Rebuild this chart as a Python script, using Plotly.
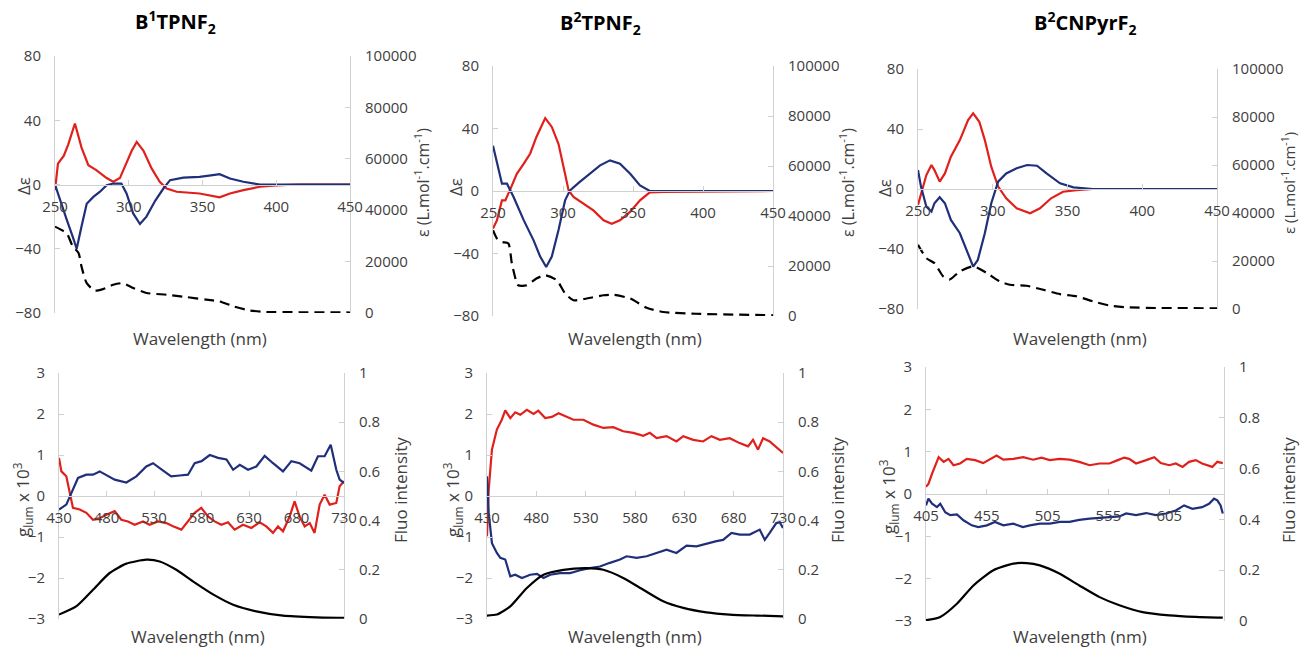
import plotly.graph_objects as go

W, H = 1301, 649

# ---------------- data ----------------
# Panel 1: B1TPNF2 CD / absorption
p1_red_wl = [250, 252, 256, 259, 263.5, 268, 272.6, 278, 285, 289.5, 294, 298.5, 302, 305.4, 310, 315.5,
             321, 325.7, 332.5, 348, 355, 361.6, 368.6, 377.7, 389, 400, 416, 450]
p1_red_de = [-3.5, 13, 18, 25, 38, 23, 12, 9, 4, 1.7, 4, 13, 21, 26.5, 21, 10,
             1.7, -2.5, -4.5, -5.6, -6.6, -8, -5.6, -3.5, -1.4, -0.6, 0, 0]
p1_blue_wl = [250, 253.4, 258, 262, 264.7, 268, 271.5, 276, 280.5, 285, 289.5, 295, 298.5, 303, 307.6, 312,
              318, 323.5, 328, 337, 348, 357, 361.6, 368.6, 377.7, 389, 416, 450]
p1_blue_de = [0, -10, -22, -32.5, -40, -26, -12, -7.7, -4.5, -0.4, 0.6, 0.6, -5.6, -18, -24.6, -20,
              -10, -2.5, 2.7, 4.3, 4.8, 5.8, 6.4, 3.7, 1.7, 0, 0, 0]
p1_abs_wl = [250, 254.5, 258, 262, 266, 268, 271.5, 277, 282.5, 289.5, 296, 303, 312, 325.7, 339, 352.5,
             361.6, 371, 382, 393, 416, 450]
p1_abs_eps = [33600, 32300, 31000, 26000, 23300, 18000, 11600, 8700, 9300, 11000, 11600, 9700, 7800, 7100, 6200, 5200,
              4500, 2600, 1000, 400, 300, 200]

# Panel 2: B2TPNF2
p2_red_wl = [250, 252.8, 256.4, 258.8, 262, 267, 272, 276.6, 281, 287.3, 292, 296.8, 300.4, 304, 307.5, 314.6,
             321.7, 329, 334.8, 340.7, 347.9, 355, 362, 371.6, 450]
p2_red_de = [-24, -18.8, -6, -6, 0.4, 11, 17.5, 24, 34.6, 46.7, 41, 30, 15.4, 0.4, -3.8, -8,
             -12.4, -18.8, -21, -18.8, -13.4, -6, -0.9, -0.6, 0]
p2_blue_wl = [250, 252.8, 256.4, 260, 264.7, 272, 279, 283.7, 288, 292, 296.8, 301.5, 305, 312, 319, 326.5,
              333.6, 340.7, 348, 355, 362, 450]
p2_blue_de = [29, 17.5, 4.7, 4.7, -3.8, -18.8, -31.6, -42, -48.6, -42, -25, -6, 0.4, 5.8, 11, 16.4,
              19.6, 17.5, 11, 3.6, 0, 0]
p2_abs_wl = [250, 252.8, 256.4, 261, 263.5, 268, 274, 281, 287.3, 295.6, 301.5, 307.5, 317, 329, 336, 348,
             359.7, 371.6, 395, 450]
p2_abs_eps = [34300, 31000, 29600, 29000, 21000, 12300, 12300, 15000, 16300, 14300, 9000, 6300, 7000, 8300, 8500, 7000,
              3300, 1600, 900, 300]

# Panel 3: B2CNPyrF2
p3_red_wl = [250, 252, 255.6, 259, 261, 264.5, 268, 272, 278, 283.5, 286.9, 291, 294.7, 299, 303.6, 309,
             316, 325, 331.6, 339, 347, 356, 367, 450]
p3_red_de = [-10.6, -2.9, 9.3, 16, 12.6, 4.9, 10.4, 21.5, 32.6, 46, 50.4, 44.8, 32.6, 14.9, 1.6, -6.2,
             -12.9, -16.2, -12.9, -6.2, -1.8, -0.7, 0, 0]
p3_blue_wl = [250, 252, 255.6, 259, 261, 264.5, 268, 272, 278, 282.4, 286.9, 290, 294.7, 299, 303.6, 309,
              316, 323, 329.6, 336, 345, 354, 367, 450]
p3_blue_de = [12.6, 1.6, -11.8, -15, -9.5, -5.5, -9.5, -20.6, -29.5, -40.6, -51.7, -47.3, -29.5, -9.5, 4.9, 10.4,
              13.8, 16, 15.5, 10.4, 3.8, 1.1, 0, 0]
p3_abs_wl = [250, 255.6, 261, 266.8, 271, 278, 287, 296, 304.7, 311.5, 322.6, 333.8, 345, 356, 367, 378.5,
             389.6, 412, 450]
p3_abs_eps = [26800, 21200, 19100, 13600, 12200, 15700, 17800, 15000, 11500, 10100, 9700, 8000, 6200, 5300, 3200, 1400,
              700, 400, 300]

# Panel 4: B1TPNF2 CPL / emission
p4_red_wl = [430, 432.5, 437.7, 441, 444.7, 451.8, 458.8, 465.8, 472.8, 479.8, 488.6, 495.6, 502.6, 509.6, 518.4,
             525.4, 534.2, 543, 550, 558.8, 565.8, 572.8, 579.8, 586.8, 593.8, 600.9, 607.9, 614.9, 623.7, 632.5,
             641.2, 648.2, 655.3, 660.5, 665.8, 672.8, 678, 683.3, 688.6, 693.9, 699, 704.4, 709.6, 714.9, 721.9,
             725.4, 730]
p4_red_g = [0.93, 0.6, 0.48, 0.15, -0.29, -0.33, -0.41, -0.58, -0.54, -0.46, -0.37, -0.58, -0.62, -0.7, -0.62,
            -0.7, -0.62, -0.66, -0.74, -0.82, -0.62, -0.41, -0.29, -0.5, -0.62, -0.7, -0.64, -0.82, -0.7, -0.78,
            -0.64, -0.74, -0.9, -0.74, -0.86, -0.5, -0.13, -0.5, -0.74, -0.66, -0.9, -0.21, 0.03, -0.21, -0.17,
            0.24, 0.36]
p4_blue_wl = [430, 437.7, 443, 450, 458.8, 465.8, 472.8, 479.8, 488.6, 500.9, 511.4, 521.9, 529, 536, 543, 548,
              557, 565.8, 572.8, 580, 588.7, 597.4, 606.3, 613.3, 620.3, 629, 637.7, 646.5, 655.3, 665.8, 674.6,
              683.3, 695.6, 702.6, 709.6, 716, 721.9, 725.4, 730]
p4_blue_g = [-0.33, -0.21, 0.07, 0.44, 0.52, 0.52, 0.6, 0.52, 0.4, 0.33, 0.48, 0.72, 0.8, 0.68, 0.56, 0.48,
             0.5, 0.52, 0.8, 0.85, 1.0, 0.93, 0.89, 0.64, 0.76, 0.64, 0.72, 0.98, 0.8, 0.6, 0.85,
             0.8, 0.62, 0.97, 0.97, 1.25, 0.64, 0.4, 0.32]
p4_fl_wl = [430, 448, 465.8, 483.3, 500.9, 521.9, 536, 553.5, 571, 592.6, 613.3, 637.7, 665.8, 700.9, 730]
p4_fl = [0.018, 0.051, 0.119, 0.187, 0.225, 0.241, 0.234, 0.2, 0.153, 0.099, 0.058, 0.031, 0.0135, 0.007, 0.005]

# Panel 5: B2TPNF2
p5_red_wl = [430, 431.7, 435, 440, 445, 448.5, 453.6, 458.6, 463.7, 470.4, 477.2, 482, 489, 495.7, 502.5, 509.2,
             517.6, 527.7, 537.8, 548, 558, 568, 578.3, 588.4, 595, 601.9, 612, 622, 628.9, 639, 649, 657.5,
             666, 676, 686, 694.6, 699.6, 704.7, 709.8, 716.5, 724.9, 730]
p5_red_g = [-0.98, 0.15, 1.13, 1.62, 1.86, 2.09, 1.9, 2.04, 1.98, 2.1, 2.0, 2.08, 1.9, 1.93, 2.02, 1.95,
            1.86, 1.86, 1.74, 1.66, 1.68, 1.58, 1.54, 1.47, 1.54, 1.41, 1.46, 1.33, 1.46, 1.37, 1.33, 1.46,
            1.37, 1.41, 1.29, 1.21, 1.37, 1.13, 1.41, 1.33, 1.17, 1.05]
p5_blue_wl = [430, 431.7, 435, 440, 443.5, 448.5, 453.6, 458.6, 465.4, 473.8, 480.6, 487.3, 494, 504, 514.2,
              524.3, 534.4, 544.5, 554.6, 564.8, 571.5, 581.6, 591.8, 601.9, 612, 622, 632.2, 642.3, 652.4,
              662.6, 669.3, 677.8, 686.2, 696.3, 706.4, 711.5, 716.5, 723.2, 726.6, 730]
p5_blue_g = [0.48, -0.41, -1.15, -1.39, -1.51, -1.55, -1.96, -1.92, -2.0, -1.92, -1.9, -2.0, -1.92, -1.88, -1.88,
             -1.81, -1.76, -1.72, -1.63, -1.55, -1.47, -1.51, -1.47, -1.39, -1.31, -1.39, -1.21, -1.23, -1.16,
             -1.1, -1.07, -0.9, -0.94, -0.94, -0.82, -1.07, -0.9, -0.66, -0.64, -0.78]
p5_fl_wl = [430, 440, 453.6, 470.4, 487.3, 507.5, 531, 548, 568, 588.4, 608.6, 628.9, 652.4, 676, 703, 730]
p5_fl = [0.014, 0.018, 0.051, 0.126, 0.18, 0.2, 0.207, 0.2, 0.167, 0.119, 0.072, 0.045, 0.027, 0.018, 0.014, 0.011]

# Panel 6: B2CNPyrF2
p6_red_wl = [405, 407, 410, 412.6, 415.4, 419.5, 423.5, 427.6, 433, 438.5, 445.4, 452, 457.6, 463, 468.6, 476.8,
             485, 493, 500, 506.7, 515, 523, 531, 539.5, 547.7, 555.8, 562.7, 568, 572, 577.7, 586, 592.7,
             598, 605, 610.4, 615.9, 621.3, 626.8, 632, 636.3, 640.4, 644.5, 649]
p6_red_g = [0.17, 0.24, 0.48, 0.68, 0.87, 0.76, 0.83, 0.68, 0.72, 0.83, 0.8, 0.73, 0.83, 0.91, 0.81, 0.83,
            0.87, 0.81, 0.86, 0.8, 0.83, 0.81, 0.76, 0.68, 0.72, 0.72, 0.8, 0.86, 0.83, 0.72, 0.8, 0.87,
            0.73, 0.68, 0.72, 0.64, 0.76, 0.8, 0.72, 0.68, 0.64, 0.76, 0.73]
p6_blue_wl = [405, 407, 410, 414, 416.7, 420.8, 424.9, 430.4, 435.8, 442.6, 448, 455, 461.7, 468.6, 476.8, 484.6,
              490.4, 498.6, 506.7, 515, 523, 531, 539.5, 547.7, 555.8, 564, 569.5, 577.7, 586, 594, 602.3,
              610.4, 617.2, 624, 632, 637.7, 641.8, 644.5, 647.2, 649]
p6_blue_g = [-0.27, -0.11, -0.23, -0.31, -0.23, -0.43, -0.5, -0.48, -0.62, -0.74, -0.78, -0.74, -0.66, -0.74, -0.7,
             -0.78, -0.74, -0.7, -0.7, -0.66, -0.66, -0.61, -0.58, -0.56, -0.54, -0.53, -0.46, -0.5, -0.45, -0.5,
             -0.46, -0.39, -0.27, -0.35, -0.31, -0.23, -0.11, -0.15, -0.27, -0.46]
p6_fl_wl = [405, 416.7, 430.4, 444, 460.4, 476.8, 487.7, 498.6, 515, 531, 547.7, 564, 583, 605, 626.8, 649]
p6_fl = [0.003, 0.016, 0.068, 0.14, 0.2, 0.226, 0.228, 0.219, 0.186, 0.14, 0.094, 0.062, 0.035, 0.022, 0.016, 0.013]

panel_titles = ["B<sup>1</sup>TPNF<sub>2</sub>", "B<sup>2</sup>TPNF<sub>2</sub>", "B<sup>2</sup>CNPyrF<sub>2</sub>"]
x_title = "Wavelength (nm)"
y_cd_title = "Δε"
y_abs_title = "ε (L.mol<sup>-1</sup>.cm<sup>-1</sup>)"
y_cpl_title = "g<sub>lum</sub> x 10<sup>3</sup>"
y_fl_title = "Fluo intensity"

# ---------------- layout helpers ----------------
RED = "#e0201b"
BLUE = "#1f2f7a"
AX = "#d0d0d0"
TXT = "#404040"
FONT = "Open Sans"


def fx(px):
    return px / W


def fy(py):
    return 1 - py / H


# plot-area boxes in pixels (left, right, top, bottom)
boxes = [(55, 350, 56, 313), (493, 773, 66, 316), (918, 1217, 69, 309),
         (59, 344, 373, 619), (487, 783, 373, 619), (926, 1224, 367, 621)]

panels = [
    dict(red=(p1_red_wl, p1_red_de), blue=(p1_blue_wl, p1_blue_de), blk=(p1_abs_wl, p1_abs_eps), kind="cd"),
    dict(red=(p2_red_wl, p2_red_de), blue=(p2_blue_wl, p2_blue_de), blk=(p2_abs_wl, p2_abs_eps), kind="cd"),
    dict(red=(p3_red_wl, p3_red_de), blue=(p3_blue_wl, p3_blue_de), blk=(p3_abs_wl, p3_abs_eps), kind="cd"),
    dict(red=(p4_red_wl, p4_red_g), blue=(p4_blue_wl, p4_blue_g), blk=(p4_fl_wl, p4_fl), kind="cpl",
         xr=[430, 730], x0=430),
    dict(red=(p5_red_wl, p5_red_g), blue=(p5_blue_wl, p5_blue_g), blk=(p5_fl_wl, p5_fl), kind="cpl",
         xr=[430, 730], x0=430),
    dict(red=(p6_red_wl, p6_red_g), blue=(p6_blue_wl, p6_blue_g), blk=(p6_fl_wl, p6_fl), kind="cpl",
         xr=[405, 650], x0=405),
]

fig = go.Figure()
layout = dict(width=W, height=H, margin=dict(l=0, r=0, t=0, b=0, autoexpand=False), showlegend=False,
              plot_bgcolor="white", paper_bgcolor="white", font=dict(family=FONT, size=15, color=TXT))
annotations = []

tickfont = dict(family=FONT, size=15, color=TXT)

for i, p in enumerate(panels, start=1):
    l, r, t, b = boxes[i - 1]
    xa = f"x{i}"
    yl = f"y{2 * i - 1}"
    yr = f"y{2 * i}"
    cd = p["kind"] == "cd"
    common = dict(showgrid=False, zeroline=False, showline=True, linecolor=AX, linewidth=1, automargin=False,
                  ticks="inside", ticklen=5, tickcolor=AX, tickfont=tickfont)
    layout[f"xaxis{i}"] = dict(common, domain=[fx(l), fx(r)], anchor="free", position=fy((t + b) / 2),
                               range=[250, 450] if cd else p["xr"], tick0=250 if cd else p["x0"], dtick=50,
                               ticklabelstandoff=8)
    layout[f"yaxis{2 * i - 1}"] = dict(common, domain=[fy(b), fy(t)], anchor=xa,
                                       range=[-80, 80] if cd else [-3, 3], dtick=40 if cd else 1,
                                       ticklabelstandoff=10)
    layout[f"yaxis{2 * i}"] = dict(common, overlaying=yl, side="right", anchor=xa,
                                   range=[0, 100000] if cd else [0, 1], dtick=20000 if cd else 0.2,
                                   tickformat="d" if cd else None, ticklabelstandoff=11)

    fig.add_trace(go.Scatter(x=p["red"][0], y=p["red"][1], xaxis=xa, yaxis=yl, mode="lines",
                             line=dict(color=RED, width=2.2)))
    fig.add_trace(go.Scatter(x=p["blue"][0], y=p["blue"][1], xaxis=xa, yaxis=yl, mode="lines",
                             line=dict(color=BLUE, width=2.2)))
    fig.add_trace(go.Scatter(x=p["blk"][0], y=p["blk"][1], xaxis=xa, yaxis=yr, mode="lines",
                             line=dict(color="black", width=2.2, dash="10px,6px" if cd else "solid",
                                       shape="spline", smoothing=0.6)))


# text annotations (titles)
def ann(text, x, y, size=17, angle=0, bold=False, color=TXT):
    annotations.append(dict(text=f"<b>{text}</b>" if bold else text, x=fx(x), y=fy(y), xref="paper",
                            yref="paper", showarrow=False, textangle=angle, xanchor="center", yanchor="middle",
                            font=dict(family=FONT, size=size, color=color)))


ann(panel_titles[0], 175, 22, size=20, bold=True, color="black")
ann(panel_titles[1], 600, 23, size=20, bold=True, color="black")
ann(panel_titles[2], 1085, 23, size=20, bold=True, color="black")

for cx in (200, 635, 1080):
    ann(x_title, cx, 338)
for cx in (198, 635, 1080):
    ann(x_title, cx, 636)

ann(y_cd_title, 24, 186, angle=-90)
ann(y_cd_title, 455, 187, angle=-90)
ann(y_cd_title, 885, 188, angle=-90)
ann(y_abs_title, 422, 182, size=16, angle=-90)
ann(y_abs_title, 847, 182, size=16, angle=-90)
ann(y_abs_title, 1289, 183, size=15, angle=-90)

ann(y_cpl_title, 22, 500, angle=-90)
ann(y_cpl_title, 452, 500, angle=-90)
ann(y_cpl_title, 888, 497, angle=-90)
ann(y_fl_title, 400, 490, angle=-90)
ann(y_fl_title, 837, 490, angle=-90)
ann(y_fl_title, 1288, 490, angle=-90)

layout["annotations"] = annotations
fig.update_layout(**layout)
fig.write_html("out.html", config={"displayModeBar": False},
               post_script="document.body.style.margin='0';document.body.style.padding='0';"
                           "document.body.style.overflow='hidden';")
